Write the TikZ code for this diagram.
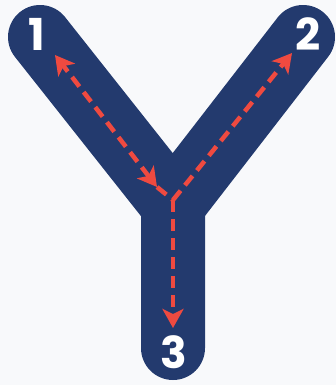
\documentclass[tikz,border=0pt]{standalone}
\usepackage{fontspec}
\setmainfont{Poppins}
\usetikzlibrary{arrows.meta}
\definecolor{navy}{HTML}{233A6E}
\definecolor{dashred}{HTML}{EF4A40}
\definecolor{bgcol}{HTML}{F8F9FB}
\tikzset{
  ystroke/.style={draw=navy, line width=64pt, line cap=round, line join=miter},
  guide/.style={draw=dashred, line width=4.5pt, dash pattern=on 12pt off 7pt},
  tip/.style={-{Stealth[length=19pt,width=21pt,inset=5pt]}},
  numlabel/.style={text=white, font=\fontsize{44}{44}\selectfont\bfseries, inner sep=0pt}
}
\begin{document}
\begin{tikzpicture}[x=1pt,y=-1pt]
\fill[bgcol] (0,0) rectangle (336,385);
\useasboundingbox (0,0) rectangle (336,385);
\coordinate (c1) at (40,37);
\coordinate (c2) at (303,37);
\coordinate (c3) at (173,348);
\coordinate (J) at (173,205);
\draw[ystroke] (c1) -- (J) -- (c3);
\draw[ystroke] (c2) -- (J);
% guides
\coordinate (a1) at (55,55);
\coordinate (a1b) at (157,187);
\coordinate (g0) at (173,200);
\coordinate (a2) at (292,53);
\coordinate (a3) at (173,328);
\draw[guide, {Stealth[length=19pt,width=21pt,inset=5pt]}-{Stealth[length=19pt,width=21pt,inset=5pt]}] (a1b) -- (a1);
\draw[guide] (a1b) -- (g0);
\draw[guide, tip] (g0) -- (a2);
\draw[guide, tip] (g0) -- (a3);
\node[numlabel] (n1) at (37,34) {1};
\node[numlabel] (n2) at (308,34) {2};
\node[numlabel] (n3) at (174,352) {3};
\end{tikzpicture}
\end{document}
